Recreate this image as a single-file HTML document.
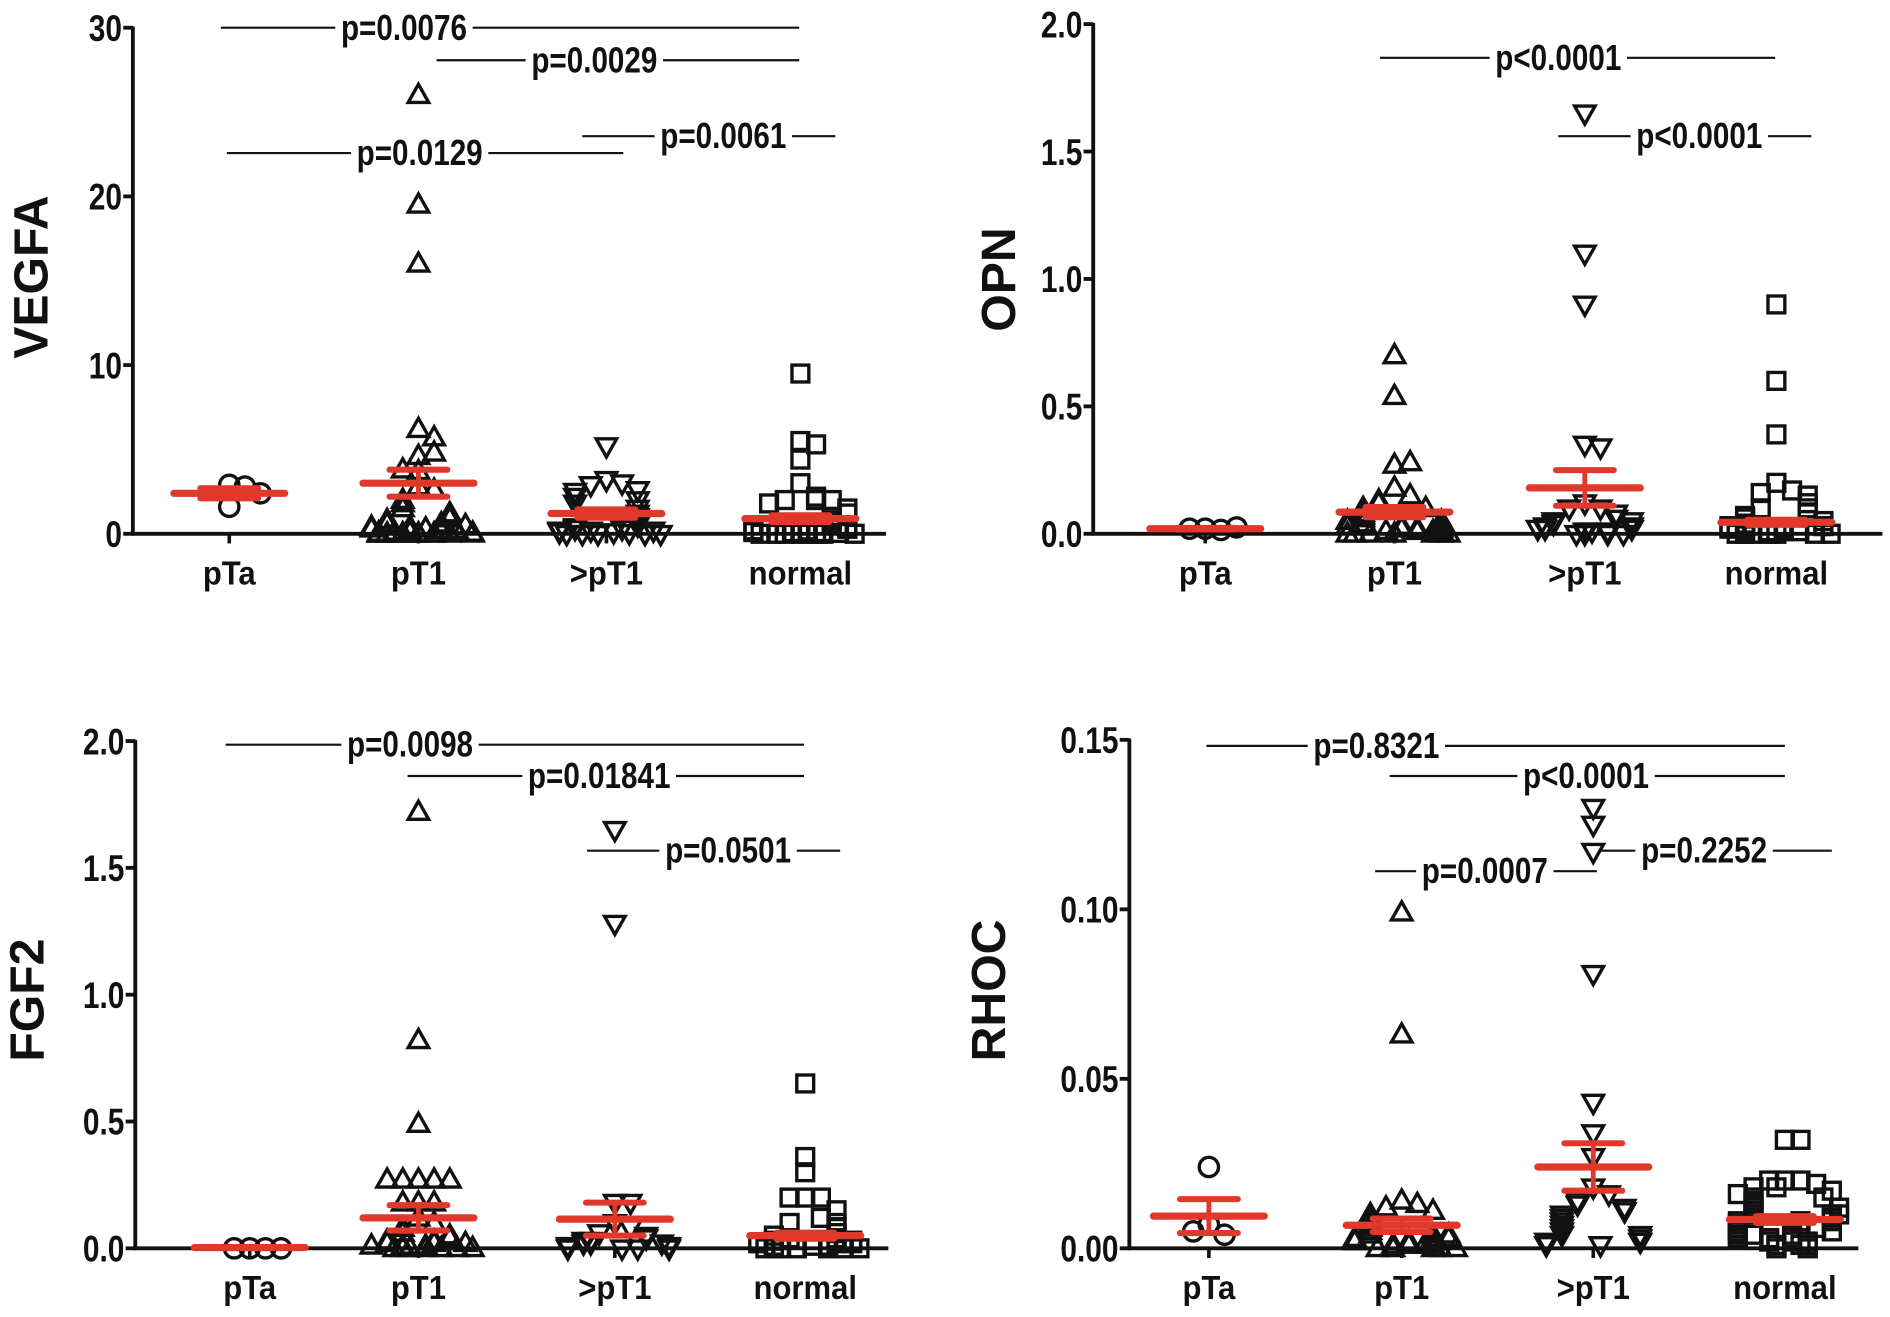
<!DOCTYPE html>
<html><head><meta charset="utf-8"><style>
html,body{margin:0;padding:0;background:#fff;}
svg{display:block;}
text{font-family:"Liberation Sans",sans-serif;font-weight:bold;fill:#111;}
</style></head>
<body>
<svg id="fig" width="1890" height="1317" viewBox="0 0 1568 1093" xmlns="http://www.w3.org/2000/svg"></svg>
<script>
const categories = ["pTa","pT1",">pT1","normal"];
// VEGFA
const vegfaPTa = [2.9,1.6,2.8,2.4];
const vegfaPT1 = [26,19.5,16,6.2,5.7,4.6,4.8,3.7,3.8,2.8,2.6,2.0,1.8,1.5,1.2,1.0,0.9,0.8,0.6,0.5,0.4,0.3,0.3,0.2,0.2,0.1,0.1,0.1,0.05,0.05,0,0,0,0,0,0,0.6,0.4,0.3,0.2,0.1,0.1,0,0,0,0,0,0];
const vegfaGt = [5.2,3.2,3.0,2.9,2.6,2.5,2.2,2.0,1.8,1.5,1.2,1.0,0.8,0.5,0.4,0.3,0.2,0.2,0.1,0.1,0.05,0,0,0,0,0,0.3,0.2];
const vegfaNorm = [9.5,5.5,5.3,4.4,3.0,2.2,2.0,2.0,2.0,1.8,1.5,1.2,1.0,0.8,0.6,0.5,0.4,0.3,0.2,0.2,0.1,0.1,0.1,0.05,0,0,0,0,0,0,0.4,0.3,0.2,0.1,0,0];
const vegfaMean = [2.4,3.0,1.2,0.9];
const vegfaSem = [0.3,0.8,0.25,0.2];
// OPN
const opnPTa = [0.02,0.015,0.02,0.025];
const opnPT1 = [0.7,0.54,0.27,0.28,0.18,0.15,0.13,0.12,0.1,0.1,0.08,0.07,0.06,0.05,0.05,0.04,0.03,0.03,0.02,0.02,0.01,0.01,0.01,0,0,0,0,0,0.04,0.03,0.02,0.01,0,0];
const opnGt = [1.65,1.1,0.9,0.35,0.34,0.12,0.1,0.1,0.08,0.06,0.05,0.05,0.04,0.03,0.02,0.02,0.01,0.01,0,0,0,0.03,0.02,0.01,0];
const opnNorm = [0.9,0.6,0.39,0.2,0.17,0.16,0.15,0.12,0.1,0.1,0.08,0.07,0.06,0.05,0.04,0.03,0.03,0.02,0.02,0.01,0.01,0.01,0,0,0,0,0,0,0.03,0.02,0.01,0];
const opnMean = [0.02,0.085,0.18,0.045];
const opnSem = [0.003,0.02,0.07,0.01];
// FGF2
const fgfPTa = [0,0,0,0];
const fgfPT1 = [1.72,0.82,0.49,0.27,0.27,0.27,0.27,0.27,0.18,0.18,0.18,0.12,0.1,0.08,0.06,0.05,0.04,0.03,0.02,0.02,0.01,0.01,0,0,0,0,0,0,0.03,0.02,0.01,0];
const fgfGt = [1.65,1.28,0.18,0.18,0.1,0.08,0.06,0.05,0.04,0.03,0.02,0.02,0.01,0,0,0,0.03,0.02,0.01,0];
const fgfNorm = [0.65,0.36,0.3,0.2,0.2,0.2,0.15,0.12,0.1,0.1,0.08,0.06,0.05,0.04,0.03,0.03,0.02,0.02,0.01,0.01,0,0,0,0,0,0,0.04,0.03,0.02,0.01,0];
const fgfMean = [0.003,0.12,0.115,0.05];
const fgfSem = [0.002,0.05,0.065,0.012];
// RHOC
const rhocPTa = [0.024,0.007,0.004,0.005];
const rhocPT1 = [0.099,0.063,0.014,0.013,0.012,0.011,0.01,0.009,0.008,0.007,0.006,0.005,0.004,0.004,0.003,0.003,0.002,0.002,0.001,0.001,0.001,0,0,0,0,0.004,0.003,0.002,0.001,0];
const rhocGt = [0.13,0.125,0.117,0.081,0.043,0.034,0.027,0.018,0.016,0.014,0.013,0.012,0.011,0.01,0.009,0.008,0.007,0.006,0.005,0.004,0.004,0.003,0.002,0.002,0.001,0.001];
const rhocNorm = [0.032,0.032,0.02,0.02,0.02,0.019,0.018,0.017,0.016,0.015,0.014,0.013,0.012,0.011,0.01,0.01,0.009,0.008,0.008,0.007,0.006,0.005,0.005,0.004,0.004,0.003,0.003,0.002,0.002,0.001,0.001,0,0,0.018,0.015,0.012,0.01,0.008,0.006,0.004,0.003,0.002,0.001];
const rhocMean = [0.0095,0.0068,0.024,0.0085];
const rhocSem = [0.005,0.002,0.007,0.001];

const panels = [
 {name:"vegfa",title:"VEGFA",ax:110,y0:443,yTop:23,max:30,xEnd:735,cx:[190,347,503,664],ticks:[0,10,20,30],tickLab:["0","10","20","30"],titleX:25,titleY:230,
  groups:[vegfaPTa,vegfaPT1,vegfaGt,vegfaNorm],mean:vegfaMean,sem:vegfaSem,catY:485,
  ann:[[23,183,663,335,"p=0.0076"],[50,362,663,493,"p=0.0029"],[127,188,517,348,"p=0.0129"],[113,483,693,600,"p=0.0061"]]},
 {name:"opn",title:"OPN",ax:907,y0:443,yTop:20,max:2,xEnd:1562,cx:[1000,1157,1315,1474],ticks:[0,0.5,1,1.5,2],tickLab:["0.0","0.5","1.0","1.5","2.0"],titleX:828,titleY:232,
  groups:[opnPTa,opnPT1,opnGt,opnNorm],mean:opnMean,sem:opnSem,catY:485,
  ann:[[48,1145,1473,1293,"p<0.0001"],[113,1293,1503,1410,"p<0.0001"]]},
 {name:"fgf2",title:"FGF2",ax:112,y0:1036,yTop:615,max:2,xEnd:737,cx:[207,347,510,668],ticks:[0,0.5,1,1.5,2],tickLab:["0.0","0.5","1.0","1.5","2.0"],titleX:22,titleY:830,
  groups:[fgfPTa,fgfPT1,fgfGt,fgfNorm],mean:fgfMean,sem:fgfSem,catY:1078,
  ann:[[618,187,667,340,"p=0.0098"],[644,338,667,497,"p=0.01841"],[706,487,697,604,"p=0.0501"]]},
 {name:"rhoc",title:"RHOC",ax:937,y0:1036,yTop:614,max:0.15,xEnd:1542,cx:[1003,1163,1322,1481],ticks:[0,0.05,0.1,0.15],tickLab:["0.00","0.05","0.10","0.15"],titleX:820,titleY:822,
  groups:[rhocPTa,rhocPT1,rhocGt,rhocNorm],mean:rhocMean,sem:rhocSem,catY:1078,
  ann:[[619,1001,1481,1142,"p=0.8321"],[644,1153,1481,1316,"p<0.0001"],[723,1141,1325,1232,"p=0.0007"],[706,1327,1520,1414,"p=0.2252"]]}
];
const NS="http://www.w3.org/2000/svg";
const svg=document.getElementById('fig');
function mk(tag,attrs,parent){const e=document.createElementNS(NS,tag);for(const k in attrs)e.setAttribute(k,attrs[k]);(parent||svg).appendChild(e);return e;}
const shapes=["circle","up","down","square"];
panels.forEach(p=>{
  const g=mk('g',{});
  
  
  const yS=v=>p.y0-(v/p.max)*(p.y0-p.yTop);
  const ya=mk('line',{x1:p.ax,y1:p.yTop-1,x2:p.ax,y2:p.y0+1.5,stroke:'#111','stroke-width':3.2},g);
  
  
  const xa=mk('line',{x1:p.ax-1.5,y1:p.y0,x2:p.xEnd,y2:p.y0,stroke:'#111','stroke-width':3.2},g);
  
  
  p.ticks.forEach((t,i)=>{
    const y=yS(t);
    mk('line',{x1:p.ax-8,y1:y,x2:p.ax,y2:y,stroke:'#111','stroke-width':3.2},g);
    const tx=mk('text',{x:p.ax-9,y:y+11,'font-size':31,'text-anchor':'end',transform:`translate(${p.ax-9} 0) scale(0.8 1) translate(${-(p.ax-9)} 0)`},g);
    tx.textContent=p.tickLab[i];
    
    
  });
  const tt=mk('text',{x:0,y:0,'font-size':40,'text-anchor':'middle',transform:`translate(${p.titleX+14} ${p.titleY}) rotate(-90)`},g);
  tt.textContent=p.title;
  
  
  categories.forEach((c,ci)=>{
    const cx=p.cx[ci];
    mk('line',{x1:cx,y1:p.y0,x2:cx,y2:p.y0+8,stroke:'#111','stroke-width':3},g);
    const cl=mk('text',{x:cx,y:p.catY,'font-size':28,'text-anchor':'middle',transform:`translate(${cx} 0) scale(0.92 1) translate(${-cx} 0)`},g);
    cl.textContent=c;
    
    
    const vals=p.groups[ci];
    const placed=[];
    vals.forEach(v=>{
      const y=yS(v);
      const near=placed.filter(q=>Math.abs(q-y)<12).length;
      placed.push(y);
      const k=near%7;
      const off=(k===0?0:(k%2?1:-1)*Math.ceil(k/2)*13)+(Math.floor(near/7)%2?6:0);
      const x=cx+off;
      let m;
      if(shapes[ci]==='circle') m=mk('circle',{cx:x,cy:y,r:8,fill:'none',stroke:'#111','stroke-width':2.8},g);
      else if(shapes[ci]==='up') m=mk('path',{d:`M${x} ${y-9}L${x+8.5} ${y+6}L${x-8.5} ${y+6}Z`,fill:'none',stroke:'#111','stroke-width':2.8},g);
      else if(shapes[ci]==='down') m=mk('path',{d:`M${x} ${y+9}L${x+8.5} ${y-6}L${x-8.5} ${y-6}Z`,fill:'none',stroke:'#111','stroke-width':2.8},g);
      else m=mk('rect',{x:x-7,y:y-7,width:14,height:14,fill:'none',stroke:'#111','stroke-width':2.8},g);
      
      
    });
    const my=yS(p.mean[ci]),hi=yS(p.mean[ci]+p.sem[ci]),lo=yS(Math.max(0,p.mean[ci]-p.sem[ci]));
    const eg=mk('g',{stroke:'#e0392b','stroke-linecap':'round'},g);
    
    
    mk('line',{x1:cx,y1:hi,x2:cx,y2:lo,'stroke-width':4},eg);
    mk('line',{x1:cx-24,y1:hi,x2:cx+24,y2:hi,'stroke-width':5},eg);
    mk('line',{x1:cx-24,y1:lo,x2:cx+24,y2:lo,'stroke-width':5},eg);
    mk('line',{x1:cx-46,y1:my,x2:cx+46,y2:my,'stroke-width':6},eg);
  });
  p.ann.forEach(a=>{
    const ag=mk('g',{},g);
    
    
    mk('line',{x1:a[1],y1:a[0],x2:a[2],y2:a[0],stroke:'#111','stroke-width':1.8},ag);
    const w=a[4].length*13.5;
    mk('rect',{x:a[3]-w/2-3,y:a[0]-3,width:w+6,height:6,fill:'#fff'},ag);
    const t=mk('text',{x:a[3],y:a[0]+10,'font-size':30,'text-anchor':'middle',transform:`translate(${a[3]} 0) scale(0.82 1) translate(${-a[3]} 0)`},ag);
    t.textContent=a[4];
  });
});
</script>
</body></html>
